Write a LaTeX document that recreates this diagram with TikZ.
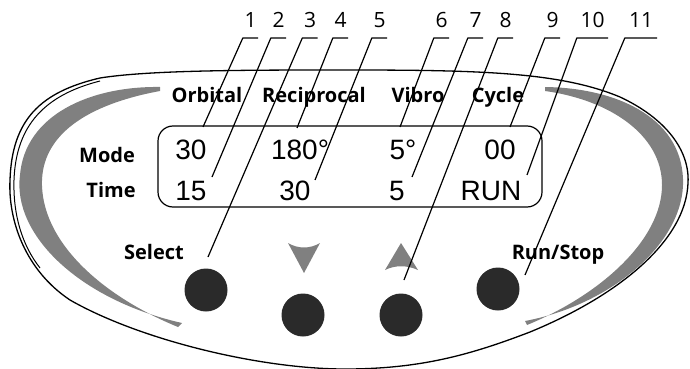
\documentclass[tikz,border=0pt]{standalone}
\usepackage{fontspec}
\newfontfamily\opensans{Open Sans}
\newfontfamily\lcdfont{Liberation Sans}
\definecolor{swoosh}{HTML}{808080}
\definecolor{keyfill}{HTML}{2A2A2A}

\begin{document}
\begin{tikzpicture}[x=1pt, y=-1pt, line join=round]
    \tikzset{
      numlab/.style={anchor=south, inner xsep=0pt, inner ysep=10pt, minimum width=15pt, font=\opensans\fontsize{21}{23}\selectfont},
      caption/.style={anchor=base, inner sep=0pt, font=\opensans\bfseries\fontsize{20}{23}\selectfont},
      readout/.style={anchor=base, inner sep=0pt, font=\lcdfont\fontsize{28}{30}\selectfont},
      key/.style={circle, fill=keyfill, minimum size=43pt, inner sep=0pt},
      lead/.style={line width=1.2pt},
    }
    \useasboundingbox (0,0) rectangle (690,369);

    % panel outline
    \draw[line width=1.3pt] (345,70) .. controls (480,70) and (560,72) .. (620,97)
        .. controls (665,118) and (690,150) .. (688,183)
        .. controls (686,240) and (620,295) .. (530,332)
        .. controls (470,355) and (420,369) .. (345,369)
        .. controls (260,369) and (140,340) .. (70,300)
        .. controls (25,270) and (8,220) .. (10,180)
        .. controls (12,120) and (40,92) .. (100,78)
        .. controls (150,70) and (250,70) .. (345,70) -- cycle;
    \draw[line width=1pt] (100,81) .. controls (45,95) and (16,125) .. (14,180)
        .. controls (13,215) and (22,245) .. (40,268);

    % grey swooshes
    \fill[swoosh] (160,87) .. controls (90,86) and (25,115) .. (20,175)
        .. controls (12,235) and (80,300) .. (182,323)
        -- (178,327) .. controls (100,295) and (40,240) .. (42,180)
        .. controls (44,130) and (95,103) .. (160,91) -- cycle;
    \fill[swoosh] (545,87) .. controls (620,88) and (685,120) .. (683,185)
        .. controls (681,245) and (610,305) .. (525,321)
        -- (527,325) .. controls (600,295) and (662,240) .. (662,185)
        .. controls (662,135) and (610,100) .. (545,91) -- cycle;

    % display
    \draw[line width=1.2pt, rounded corners=15pt] (158,126) rectangle (542,207);

    \node[caption] (orbital) at (207,102) {Orbital};
    \node[caption] (recip)   at (314,102) {Reciprocal};
    \node[caption] (vibro)   at (418,102) {Vibro};
    \node[caption] (cycle)   at (498,102) {Cycle};
    \node[caption] (mode)    at (107,162) {Mode};
    \node[caption] (time)    at (111,197) {Time};
    \node[caption] (select)  at (154,259) {Select};
    \node[caption] (runstop) at (558,259) {Run/Stop};

    \node[readout] (orbval)  at (191,159) {30};
    \node[readout] (recval)  at (300,159) {180°};
    \node[readout] (vibval)  at (403,159) {5°};
    \node[readout] (cycval)  at (500,159) {00};
    \node[readout] (orbtime) at (191,200) {15};
    \node[readout] (rectime) at (295,200) {30};
    \node[readout] (vibtime) at (397,200) {5};
    \node[readout] (cyctime) at (491,200) {RUN};

    % keys
    \node[key] (bsel)  at (206,290) {};
    \node[key] (bdown) at (303,315) {};
    \node[key] (bup)   at (401,315) {};
    \node[key] (brun)  at (498,289) {};
    \fill[swoosh] (288,243) .. controls (298,249) and (310,249) .. (320,243) -- (304,273) -- cycle;
    \fill[swoosh] (385,270) .. controls (395,265) and (407,265) .. (418,270) -- (401,243) -- cycle;

    % callouts
    \node[numlab] (n1)  at (250.5,38) {1};
    \node[numlab] (n2)  at (278.5,38) {2};
    \node[numlab] (n3)  at (310,38) {3};
    \node[numlab] (n4)  at (340.5,38) {4};
    \node[numlab] (n5)  at (379.5,38) {5};
    \node[numlab] (n6)  at (441.5,38) {6};
    \node[numlab] (n7)  at (475.5,38) {7};
    \node[numlab] (n8)  at (505.5,38) {8};
    \node[numlab] (n9)  at (552.5,38) {9};
    \node[numlab, minimum width=31pt] (n10) at (592.5,38) {10};
    \node[numlab, minimum width=32pt] (n11) at (641,38) {11};

    \coordinate (p1)  at (203,127);
    \coordinate (p2)  at (212,177);
    \coordinate (p3)  at (208,257);
    \coordinate (p4)  at (297,128);
    \coordinate (p5)  at (315,180);
    \coordinate (p6)  at (400,127);
    \coordinate (p7)  at (412,177);
    \coordinate (p8)  at (404,280);
    \coordinate (p9)  at (510,127);
    \coordinate (p10) at (527,175);
    \coordinate (p11) at (525,275);

    \draw[lead] (p1) -- (n1.south west) -- (n1.south east);
    \draw[lead] (p2) -- (n2.south west) -- (n2.south east);
    \draw[lead] (p3) -- (n3.south west) -- (n3.south east);
    \draw[lead] (p4) -- (n4.south west) -- (n4.south east);
    \draw[lead] (p5) -- (n5.south west) -- (n5.south east);
    \draw[lead] (p6) -- (n6.south west) -- (n6.south east);
    \draw[lead] (p7) -- (n7.south west) -- (n7.south east);
    \draw[lead] (p8) -- (n8.south west) -- (n8.south east);
    \draw[lead] (p9) -- (n9.south west) -- (n9.south east);
    \draw[lead] (p10) -- (n10.south west) -- (n10.south east);
    \draw[lead] (p11) -- (n11.south west) -- (n11.south east);
\end{tikzpicture}
\end{document}
